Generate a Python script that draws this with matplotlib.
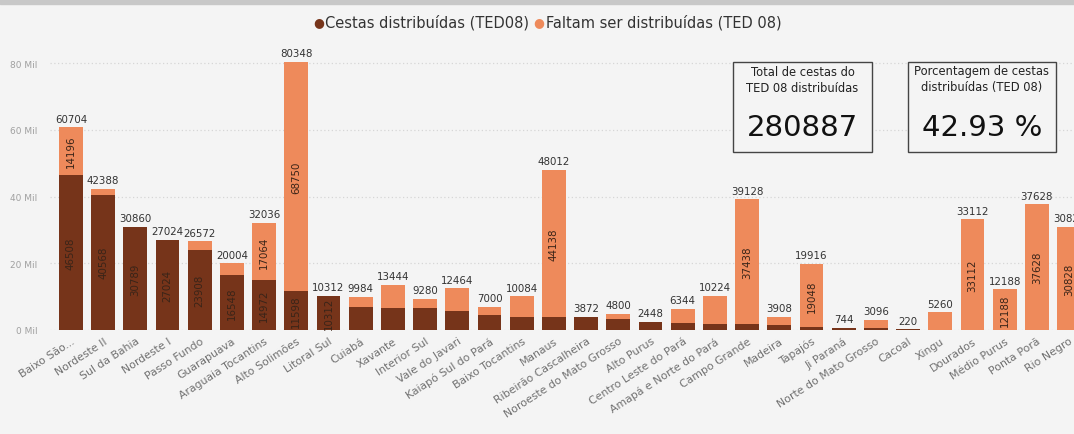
import numpy as np
import matplotlib
matplotlib.use('Agg')
import matplotlib.pyplot as plt
from matplotlib.patches import Rectangle

plt.rcParams['font.family'] = ['DejaVu Sans']

regioes = ['Baixo São...', 'Nordeste II', 'Sul da Bahia', 'Nordeste I', 'Passo Fundo',
           'Guarapuava', 'Araguaia Tocantins', 'Alto Solimões', 'Litoral Sul', 'Cuiabá',
           'Xavante', 'Interior Sul', 'Vale do Javari', 'Kaiapó Sul do Pará',
           'Baixo Tocantins', 'Manaus', 'Ribeirão Cascalheira', 'Noroeste do Mato Grosso',
           'Alto Purus', 'Centro Leste do Pará', 'Amapá e Norte do Pará', 'Campo Grande',
           'Madeira', 'Tapajós', 'Ji Paraná', 'Norte do Mato Grosso', 'Cacoal', 'Xingu',
           'Dourados', 'Médio Purus', 'Ponta Porã', 'Rio Negro']
distribuidas = [46508, 40568, 30789, 27024, 23908, 16548, 14972, 11598, 10312, 7000,
                6700, 6500, 5700, 4500, 4000, 3874, 3872, 3200, 2448, 2200,
                1800, 1690, 1500, 868, 744, 700, 220, 0, 0, 0, 0, 0]
faltam = [14196, 1820, 71, 0, 2664, 3456, 17064, 68750, 0, 2984,
          6744, 2780, 6764, 2500, 6084, 44138, 0, 1600, 0, 4144,
          8424, 37438, 2408, 19048, 0, 2396, 0, 5260, 33112, 12188, 37628, 30828]
totais = [60704, 42388, 30860, 27024, 26572, 20004, 32036, 80348, 10312, 9984,
          13444, 9280, 12464, 7000, 10084, 48012, 3872, 4800, 2448, 6344,
          10224, 39128, 3908, 19916, 744, 3096, 220, 5260, 33112, 12188, 37628, 30828]
total_distribuido = '280887'
porcentagem = '42.93 %'

escuro = '#76341A'
claro = '#EE8A5B'
fundo = '#F4F4F4'

fig = plt.figure(figsize=(10.74, 4.35), dpi=100)
fig.patch.set_facecolor(fundo)
ax = fig.add_axes([50/1074, 104/435, 1024/1074, 269/435])
ax.set_facecolor(fundo)

x = np.arange(len(regioes))
ax.bar(x, distribuidas, width=0.74, color=escuro, zorder=3)
ax.bar(x, faltam, width=0.74, bottom=distribuidas, color=claro, zorder=3)

ax.set_xlim(-0.652, 31.155)
ax.set_ylim(0, 80600)
ax.set_yticks([0, 20000, 40000, 60000, 80000])
ax.set_yticklabels(['0 Mil', '20 Mil', '40 Mil', '60 Mil', '80 Mil'])
ax.tick_params(axis='y', length=0, pad=9, labelsize=6.5, labelcolor='#A0A0A0')
ax.grid(axis='y', color='#D6D6D6', linestyle=(0, (1, 2)), linewidth=0.9, zorder=0)
ax.set_xticks(x)
ax.set_xticklabels(regioes, rotation=33, ha='right', rotation_mode='anchor',
                   fontsize=7.8, color='#707070')
ax.tick_params(axis='x', length=0, pad=4)
for s in ax.spines.values():
    s.set_visible(False)

# rotulos de total
for i, t in enumerate(totais):
    ax.text(i, t + 1100, str(t), ha='center', va='bottom', fontsize=7.4,
            color='#333333', zorder=5, clip_on=False)

# rotulos internos
for i in range(len(regioes)):
    if distribuidas[i] >= 10000:
        ax.text(i, distribuidas[i] / 2, str(distribuidas[i]), rotation=90,
                ha='center', va='center', fontsize=7.4, color='#3A2418', zorder=5)
    if faltam[i] >= 12000:
        ax.text(i, distribuidas[i] + faltam[i] / 2, str(faltam[i]), rotation=90,
                ha='center', va='center', fontsize=7.4, color='#3A2418', zorder=5)

# legenda
fig.text(0.292, 0.948, '\u25CF', color=escuro, fontsize=9, ha='left', va='center')
fig.text(0.303, 0.948, 'Cestas distribuídas (TED08)', color='#333333', fontsize=10.5,
         ha='left', va='center')
fig.text(0.497, 0.948, '\u25CF', color=claro, fontsize=9, ha='left', va='center')
fig.text(0.508, 0.948, 'Faltam ser distribuídas (TED 08)', color='#333333', fontsize=10.5,
         ha='left', va='center')

# faixa cinza do topo
fig.patches.append(Rectangle((0, 430/435), 1, 5/435, transform=fig.transFigure,
                             color='#C8C8C8', zorder=0))

# cartoes
def cartao(x0, x1, titulo, valor):
    y0, y1 = 153, 63
    fig.patches.append(Rectangle((x0/1074, 1 - y0/435), (x1 - x0)/1074, (y0 - y1)/435,
                                 transform=fig.transFigure, facecolor=fundo,
                                 edgecolor='#444444', linewidth=1.0, zorder=10))
    cx = (x0 + x1) / 2 / 1074
    fig.text(cx, 1 - 80/435, titulo, ha='center', va='center', fontsize=8.3,
             color='#222222', linespacing=1.3, zorder=11)
    fig.text(cx, 1 - 128/435, valor, ha='center', va='center', fontsize=21,
             color='#111111', zorder=11)

cartao(733, 872, 'Total de cestas do\nTED 08 distribuídas', total_distribuido)
cartao(908, 1056, 'Porcentagem de cestas\ndistribuídas (TED 08)', porcentagem)

fig.savefig('out.png', dpi=100, facecolor=fundo)
